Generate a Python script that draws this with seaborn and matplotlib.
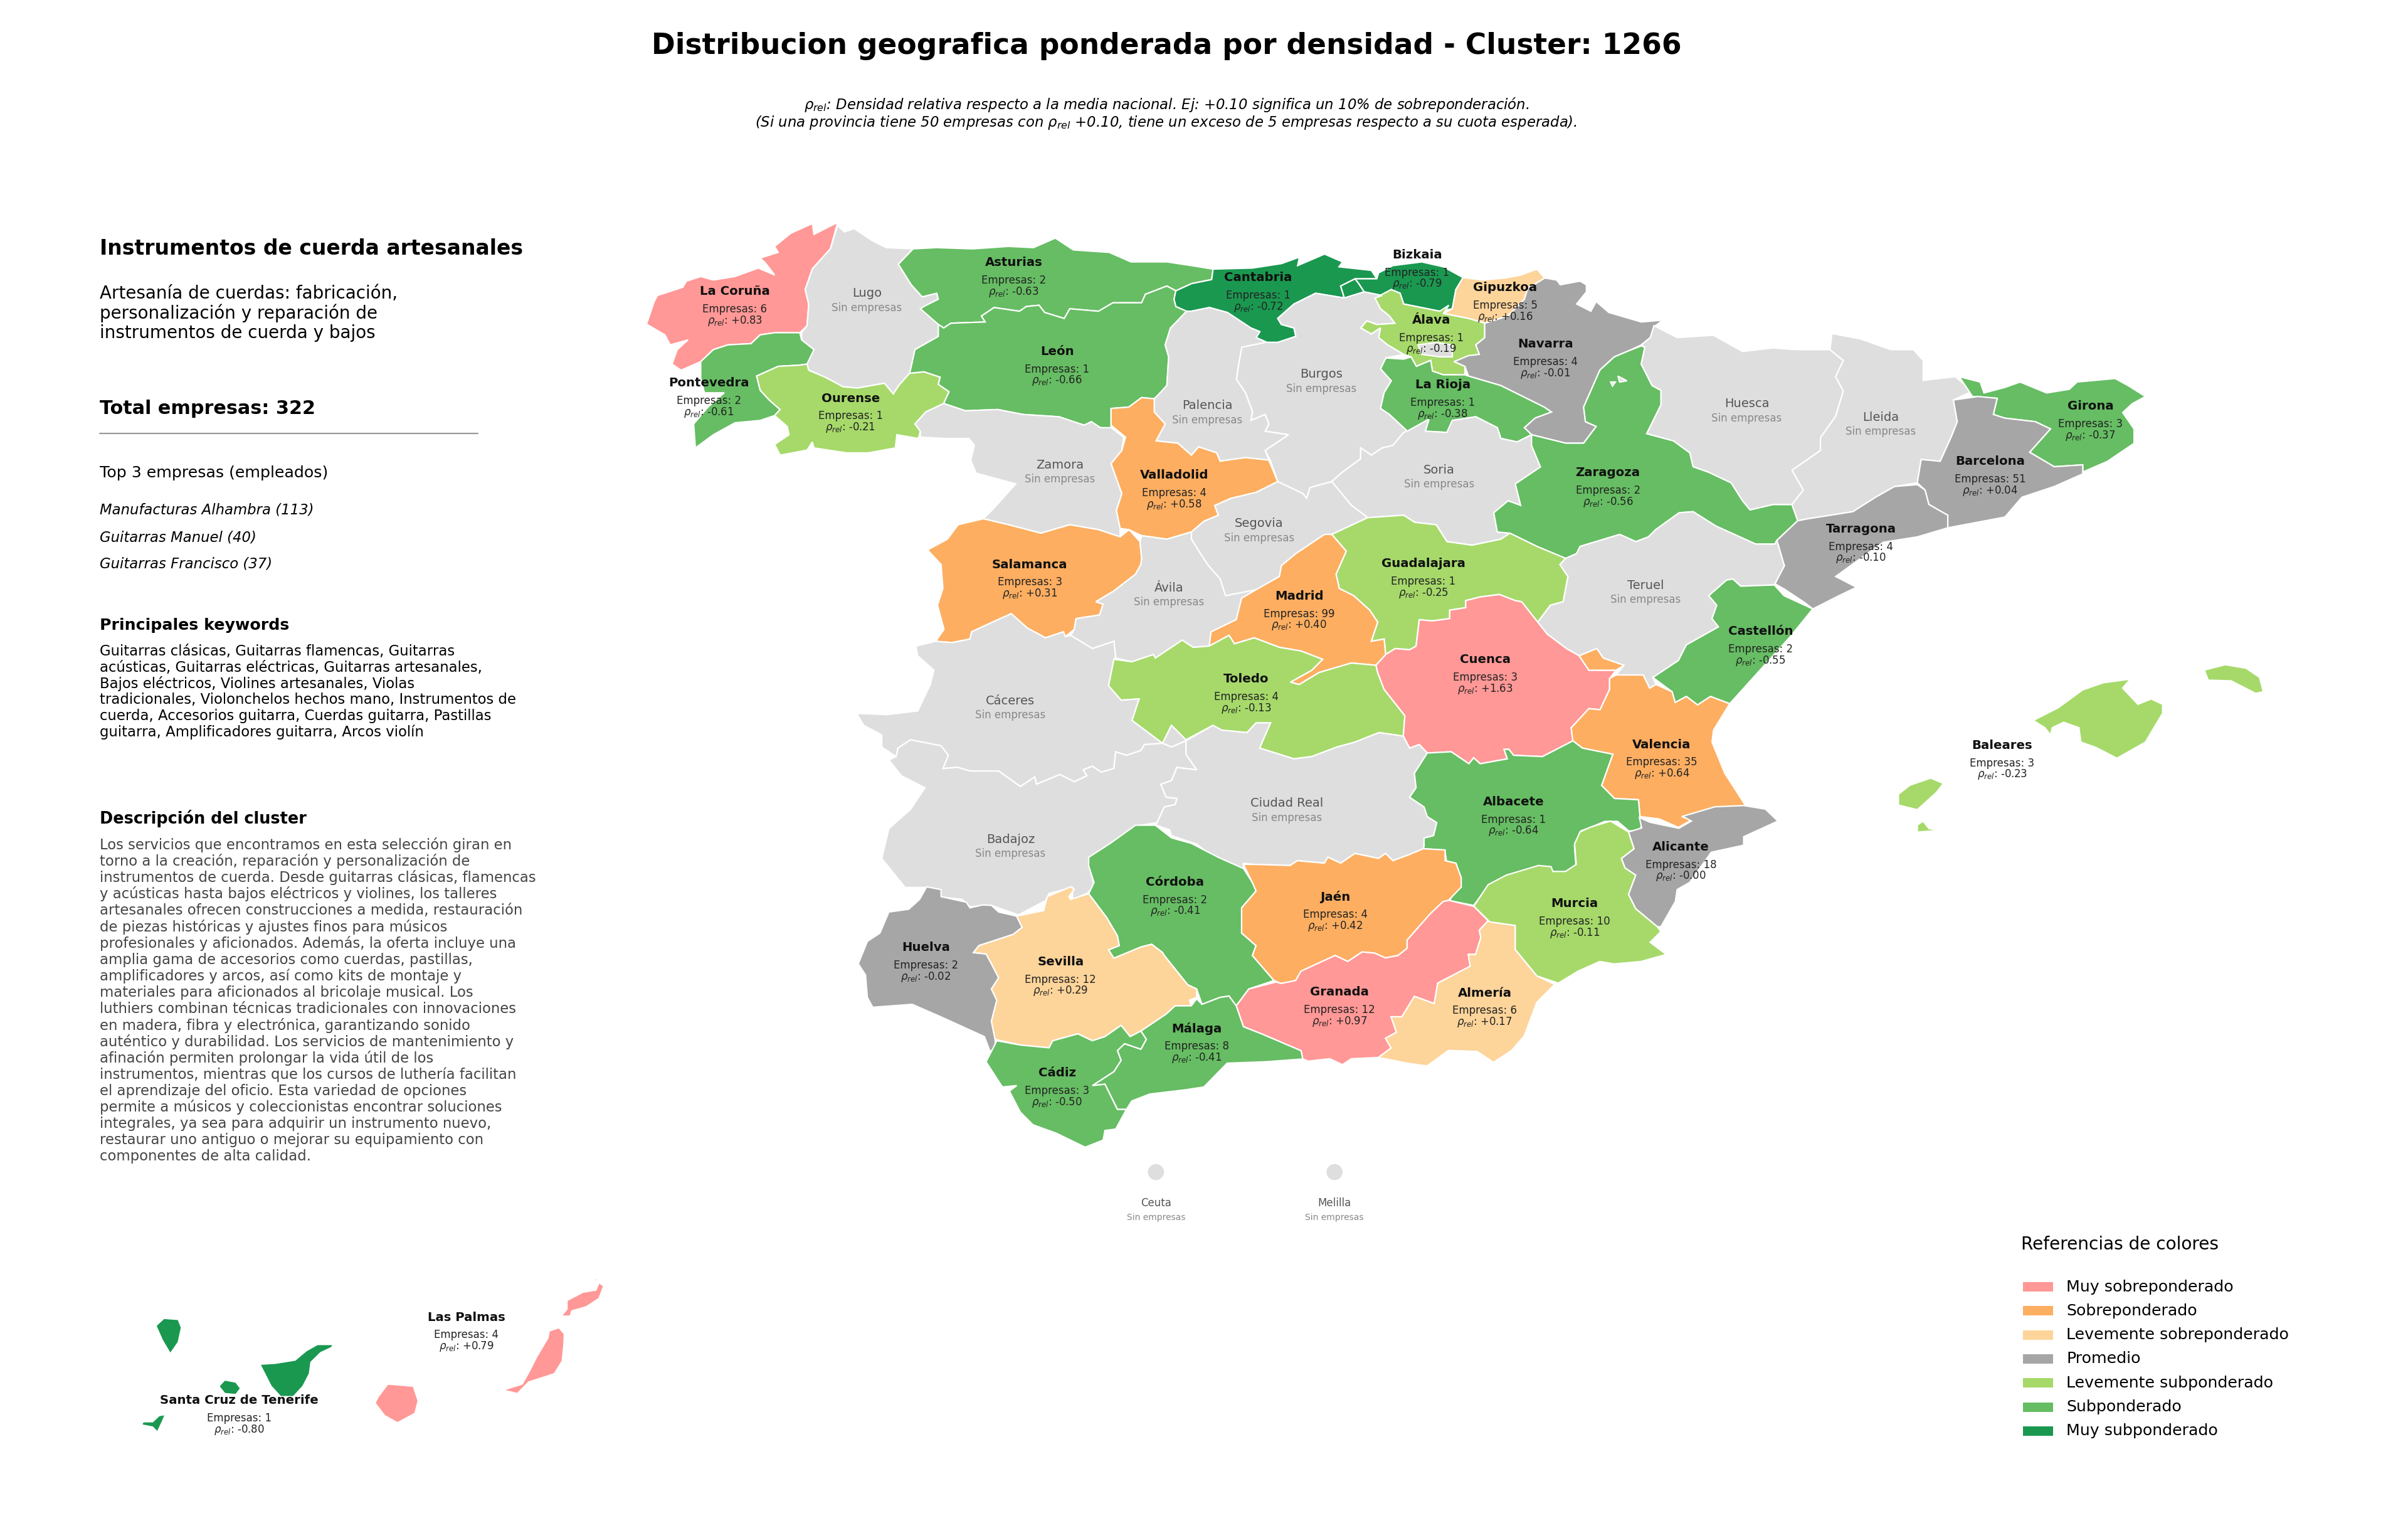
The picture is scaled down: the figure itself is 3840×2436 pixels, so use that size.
import matplotlib
matplotlib.use("Agg")
import matplotlib.pyplot as plt
import pandas as pd
import seaborn as sns

# --- datos de provincias ---
provincias = ["La Coruña", "Lugo", "Asturias", "Pontevedra", "Ourense", "León", "Cantabria", "Bizkaia",
              "Gipuzkoa", "Álava", "Navarra", "La Rioja", "Burgos", "Palencia", "Zamora", "Valladolid",
              "Soria", "Zaragoza", "Huesca", "Lleida", "Girona", "Barcelona", "Tarragona", "Segovia",
              "Guadalajara", "Salamanca", "Ávila", "Madrid", "Teruel", "Castellón", "Toledo", "Cuenca",
              "Cáceres", "Valencia", "Baleares", "Ciudad Real", "Albacete", "Badajoz", "Alicante", "Murcia",
              "Córdoba", "Jaén", "Huelva", "Sevilla", "Granada", "Almería", "Málaga", "Cádiz",
              "Santa Cruz de Tenerife", "Las Palmas"]
empresas = [6, 0, 2, 2, 1, 1, 1, 1,
            5, 1, 4, 1, 0, 0, 0, 4,
            0, 2, 0, 0, 3, 51, 4, 0,
            1, 3, 0, 99, 0, 2, 4, 3,
            0, 35, 3, 0, 1, 0, 18, 10,
            2, 4, 2, 12, 12, 6, 8, 3,
            1, 4]
rho = ["+0.83", None, "-0.63", "-0.61", "-0.21", "-0.66", "-0.72", "-0.79",
       "+0.16", "-0.19", "-0.01", "-0.38", None, None, None, "+0.58",
       None, "-0.56", None, None, "-0.37", "+0.04", "-0.10", None,
       "-0.25", "+0.31", None, "+0.40", None, "-0.55", "-0.13", "+1.63",
       None, "+0.64", "-0.23", None, "-0.64", None, "-0.00", "-0.11",
       "-0.41", "+0.42", "-0.02", "+0.29", "+0.97", "+0.17", "-0.41", "-0.50",
       "-0.80", "+0.79"]
label_x = [478.5, 564.5, 660, 461.7, 553.8, 688.4, 819.2, 922.7,
           980.2, 932.1, 1006.2, 939.4, 860.4, 786, 690.2, 764.5,
           937, 1047, 1137.4, 1224.8, 1361.2, 1295.8, 1211.9, 819.9,
           926.7, 670.6, 761.2, 846, 1071.7, 1146.3, 811.6, 967.1,
           658, 1082.1, 1303.7, 837.8, 985.6, 658, 1094.6, 1025.3,
           765.2, 869.4, 603, 690.6, 872.2, 966.7, 779.2, 688.3,
           155.7, 303.6]
label_y = [189.8, 191, 171, 249.4, 259.3, 228.8, 180.7, 165.9,
           187.4, 208.4, 224, 250.7, 243.7, 264, 302.6, 309.5,
           306, 307.7, 262.8, 271.7, 264.4, 300.5, 344.3, 340.9,
           367, 367.5, 382.8, 388.1, 381.1, 411.1, 442.2, 429.5,
           456.3, 484.7, 485.2, 523, 521.9, 546.4, 551.3, 588.4,
           574.2, 583.8, 616.8, 626.1, 645.8, 646.4, 669.7, 698.5,
           911.7, 857.5]

ciudades = ["Ceuta", "Melilla"]
ciudades_x = [752.7, 869]
ciudades_y = [763, 763]

categorias = ["Muy sobreponderado", "Sobreponderado", "Levemente sobreponderado", "Promedio",
              "Levemente subponderado", "Subponderado", "Muy subponderado"]
colores = ["#FF9896", "#FDAE61", "#FDD49A", "#A6A6A6", "#A6D96A", "#66BD63", "#1A9850"]
color_sin = "#DEDEDE"

top_empresas = ["Manufacturas Alhambra (113)", "Guitarras Manuel (40)", "Guitarras Francisco (37)"]
subtitulo_cluster = ["Artesanía de cuerdas: fabricación,", "personalización y reparación de",
                     "instrumentos de cuerda y bajos"]
keywords = ["Guitarras clásicas, Guitarras flamencas, Guitarras",
            "acústicas, Guitarras eléctricas, Guitarras artesanales,",
            "Bajos eléctricos, Violines artesanales, Violas",
            "tradicionales, Violonchelos hechos mano, Instrumentos de",
            "cuerda, Accesorios guitarra, Cuerdas guitarra, Pastillas",
            "guitarra, Amplificadores guitarra, Arcos violín"]
descripcion = ["Los servicios que encontramos en esta selección giran en",
               "torno a la creación, reparación y personalización de",
               "instrumentos de cuerda. Desde guitarras clásicas, flamencas",
               "y acústicas hasta bajos eléctricos y violines, los talleres",
               "artesanales ofrecen construcciones a medida, restauración",
               "de piezas históricas y ajustes finos para músicos",
               "profesionales y aficionados. Además, la oferta incluye una",
               "amplia gama de accesorios como cuerdas, pastillas,",
               "amplificadores y arcos, así como kits de montaje y",
               "materiales para aficionados al bricolaje musical. Los",
               "luthiers combinan técnicas tradicionales con innovaciones",
               "en madera, fibra y electrónica, garantizando sonido",
               "auténtico y durabilidad. Los servicios de mantenimiento y",
               "afinación permiten prolongar la vida útil de los",
               "instrumentos, mientras que los cursos de luthería facilitan",
               "el aprendizaje del oficio. Esta variedad de opciones",
               "permite a músicos y coleccionistas encontrar soluciones",
               "integrales, ya sea para adquirir un instrumento nuevo,",
               "restaurar uno antiguo o mejorar su equipamiento con",
               "componentes de alta calidad."]

# --- contornos de provincias ---
contornos = {
    "La Coruña": [[(545.4,144.8),(540.7,162),(529,175),(524.3,188.5),(526.6,198),(525.5,212),(520.8,216.6),(504.4,216.6),(495,218),(489,223.7),(474,224.5),(464.5,227.6),(456.3,235.4),(443.5,241),(437.6,237),(441,227.6),(448,221.3),(436.4,224.5),(433,218),(421,211),(426,196.3),(428,192.4),(444.6,187),(447,183),(456.3,180),(464.5,182.3),(478.6,180),(493.8,174.5),(504.4,179),(498.5,171.3),(495,168),(506.7,164.3),(504.4,160.4),(515,151.8),(529,145.5),(530,152.6)]],
    "Lugo": [[(545.4,147),(550,151),(556,148.7),(567.7,156.5),(577,161.2),(594.6,162),(585,172),(593.4,185.4),(600.5,193.2),(610,190.9),(611,194.8),(601.6,199.5),(611,211.2),(611,219),(595.8,227.6),(593.4,238.5),(592.3,243),(585.2,251),(581.7,256.5),(575.9,249.5),(558.3,252.6),(549,251.8),(537.2,245.5),(526.6,241),(525.5,237),(530,227.6),(522,221.3),(522,216.6),(525.5,212),(526.6,198),(524.3,188.5),(529,175),(540.7,162)]],
    "Pontevedra": [[(530,227.6),(525.5,237),(520.8,237.7),(506.7,238.5),(492.7,244.8),(495,254),(500.9,260.4),(508,266.6),(504.4,270.5),(495,273.7),(478.6,275.2),(464.5,283),(452.8,291.6),(451.7,276),(461,265),(471.6,255.7),(458.7,255.7),(456.3,246.3),(456.3,235.4),(464.5,227.6),(474,224.5),(489,223.7),(495,218),(504.4,216.6),(520.8,216.6),(522,221.3)]],
    "Ourense": [[(525.5,237),(526.6,241),(537.2,245.5),(549,251.8),(558.3,252.6),(575.9,249.5),(581.7,256.5),(585.2,251),(592.3,243),(601.6,242),(612.2,245.5),(611,250.2),(618,255),(614.5,262.7),(602.8,268.2),(595.8,276),(599.3,280.7),(598,285.4),(584,283),(583,291.6),(565.3,294.8),(551.3,294.8),(530,291.6),(529,287.7),(525.5,293),(508,296.3),(504.4,289.3),(513.8,283),(512.6,277.6),(504.4,270.5),(508,266.6),(500.9,260.4),(495,254),(492.7,244.8),(506.7,238.5),(520.8,237.7)]],
    "Asturias": [[(594.6,162),(609.8,161.2),(633.3,162),(656.7,160.4),(673,161.2),(687.2,155),(698.9,162.7),(722.3,164.3),(736.4,170.5),(759.8,170.5),(775.8,172.9),(789.9,175.2),(789,182),(776,184.6),(765.7,189.3),(759.8,186.2),(745.8,191.6),(743.4,197.1),(724.7,197.1),(715.3,202.6),(696.6,201),(693,207.3),(680.2,203.4),(676.6,198.7),(668.4,199.5),(663.8,202.6),(647.3,200.2),(639.1,205.7),(641.5,209.6),(619.2,210.4),(614.5,213.5),(611,211.2),(599.3,201),(601.6,199.5),(611,194.8),(610,190.9),(600.5,193.2),(593.4,185.4),(585,172)]],
    "León": [[(765.7,189.3),(764.5,194.8),(765.7,199.5),(772.7,202.6),(762.2,213.5),(758.7,224.5),(761,232.3),(759.8,251),(754,257.3),(751.6,259.6),(743.4,258.8),(735,265),(723.5,265.9),(723.5,279.1),(716.5,278.4),(710.6,274.5),(706,276.8),(689.5,271.3),(666,269.8),(649.7,266.6),(628.6,267.4),(614.5,262.7),(618,255),(611,250.2),(612.2,245.5),(601.6,242),(592.3,243),(593.4,238.5),(595.8,227.6),(611,219),(611,211.2),(614.5,213.5),(619.2,210.4),(641.5,209.6),(639.1,205.7),(647.3,200.2),(663.8,202.6),(668.4,199.5),(676.6,198.7),(680.2,203.4),(693,207.3),(696.6,201),(715.3,202.6),(724.7,197.1),(743.4,197.1),(745.8,191.6),(759.8,186.2)]],
    "Cantabria": [[(789.9,175.2),(815.6,174.5),(834.4,171.6),(846.1,167.4),(845,172.9),(862.5,165.4),(874.2,170.5),(871.9,173.7),(893,176),(896.5,181.5),(882.4,181.5),(873,186.2),(875.4,194),(856.7,190.9),(842.6,197.9),(832,207.3),(834.4,211.2),(842.6,213.5),(843.8,219),(832,222.9),(825,222.9),(818,219.8),(820.3,215.9),(814.5,213.5),(805.1,207.3),(799.2,203.4),(787.5,200.2),(775.8,202.6),(772.7,202.6),(765.7,199.5),(764.5,194.8),(765.7,189.3),(776,184.6),(789,182)],
                  [(873,186.2),(882.4,181.5),(884.8,184.6),(888.3,190),(875.4,194)]],
    "Bizkaia": [[(896.5,181.5),(897.7,177.6),(907,172.9),(925.8,170.5),(939.9,173.7),(952.7,180.7),(948,188.5),(945.7,201),(937.5,202.6),(914,197.9),(911.7,190.9),(905.9,188.5),(900,192.4),(888.3,190),(884.8,184.6),(882.4,181.5)]],
    "Gipuzkoa": [[(952.7,180.7),(965.6,182.3),(979.7,181),(990.2,179.1),(1000.8,175.2),(1005.9,181),(994.9,187.7),(992.6,194.8),(982,205.7),(966.8,210.4),(956.2,207.3),(939.9,204.1),(945.7,201),(948,188.5)]],
    "Navarra": [[(1005.9,181),(1013.7,182.3),(1016,185.4),(1028.9,183),(1033,185.4),(1033,190),(1026.6,197.9),(1035.9,202.6),(1039.4,196.3),(1047.6,203.4),(1068.7,209.6),(1082.8,208.4),(1078.1,212),(1074.6,219.8),(1068.8,224.5),(1060.5,228.4),(1051.2,232.3),(1041.8,240.9),(1036,254.1),(1031.2,265),(1032.4,274.5),(1039.4,277.6),(1031.2,288.5),(1019.5,288.5),(997.3,283),(992.6,278.4),(999.6,272.1),(1010.2,268.2),(1005.5,265),(977.3,251),(956.2,244.8),(953.9,238.5),(946.9,235.4),(956.2,231.5),(963.3,230.7),(961,224.5),(966.8,219.8),(966.8,210.4),(982,205.7),(992.6,194.8),(994.9,187.7)]],
    "Álava": [[(911.7,190.9),(914,197.9),(937.5,202.6),(943.4,198.7),(939.9,204.1),(956.2,207.3),(966.8,210.4),(966.8,219.8),(961,224.5),(963.3,230.7),(946.9,235.4),(953.9,238.5),(953.9,244),(939.9,244),(932.8,241.6),(931.6,234.6),(922.3,238.5),(918.8,232.3),(914,230.7),(903.5,224.5),(897.7,219.8),(898.9,213.5),(893,217.4),(886,213.5),(890.1,208.8),(896.5,211.2),(908.2,210.4),(904.7,205.7),(898.9,201),(895.3,194),(905.9,188.5)]],
    "La Rioja": [[(902.4,233),(914,233.8),(918.8,232.3),(922.3,238.5),(931.6,234.6),(932.8,241.6),(939.9,244),(953.9,244),(956.2,244.8),(977.3,251),(1005.5,265),(1010.2,268.2),(999.6,272.1),(992.6,278.4),(997.3,283),(987.9,287.7),(977.3,285.4),(975,278.4),(961,271.3),(945.7,273.7),(942.2,281.5),(928.1,280.7),(930.5,272.9),(916.4,280.7),(904.7,269.8),(898.9,265.9),(901.2,255.7),(905.9,247.9),(898.9,240.1)]],
    "Burgos": [[(823.8,222.9),(808.6,226),(806.3,238.5),(805.1,247),(811,255.7),(815.6,268.2),(814.5,273.7),(823.8,269.8),(826.2,276),(823.8,280.7),(839,283),(823.8,293.2),(827.4,300.2),(832,313.5),(848.4,321.3),(850.8,324.4),(853.1,317.4),(867.2,313.5),(874.2,307.3),(886,298.7),(886,291.6),(893,296.3),(900,291.6),(907,290),(914,281.5),(916.4,280.7),(904.7,269.8),(898.9,265.9),(901.2,255.7),(905.9,247.9),(898.9,240.1),(902.4,233),(914,230.7),(903.5,224.5),(897.7,219.8),(898.9,213.5),(893,217.4),(886,213.5),(890.1,208.8),(896.5,211.2),(908.2,210.4),(904.7,205.7),(898.9,201),(895.3,194),(900,192.4),(888.3,190),(875.4,194),(856.7,190.9),(842.6,197.9),(832,207.3),(834.4,211.2),(842.6,213.5),(843.8,219),(832,222.9)],
               [(923.4,224.5),(935.2,222.9),(945.7,224.5),(945.7,232.3),(937.5,232.3),(925.8,230.7)]],
    "Palencia": [[(772.7,202.6),(775.8,202.6),(787.5,200.2),(799.2,203.4),(805.1,207.3),(814.5,213.5),(820.3,215.9),(818,219.8),(825,222.9),(823.8,222.9),(808.6,226),(806.3,238.5),(805.1,247),(811,255.7),(815.6,268.2),(814.5,273.7),(823.8,269.8),(826.2,276),(823.8,280.7),(839,283),(823.8,293.2),(826.2,299.5),(811,297.9),(794.5,300.2),(792.2,294.8),(780.5,290.9),(775.8,296.3),(766.9,288.5),(752.8,287),(758.7,276),(751.6,268.2),(751.6,259.6),(754,257.3),(759.8,251),(761,232.3),(758.7,224.5),(762.2,213.5)]],
    "Valladolid": [[(723.5,265.9),(735,265),(743.4,258.8),(751.6,259.6),(751.6,268.2),(758.7,276),(752.8,287),(766.9,288.5),(775.8,296.3),(780.5,290.9),(792.2,294.8),(794.5,300.2),(811,297.9),(826.2,299.5),(832,313.5),(818,320.5),(801.6,324.4),(791,329.1),(793.4,335.4),(784,339.3),(775.8,346.3),(759.8,351),(743.4,348.7),(735.2,344.8),(729.4,344),(727,332.3),(730.5,321.3),(723.5,301.8),(730.5,293.2),(732.9,284.6),(723.5,276.8)]],
    "Zamora": [[(723.5,278.4),(731.7,284.6),(730.5,293.2),(723.5,301.8),(730.5,321.3),(727,332.3),(729.4,344),(729.4,349.5),(715.3,344.8),(696.6,341.6),(677.8,347.1),(656.7,341.6),(640.3,337.7),(647.3,330.7),(661.4,315),(635.6,308),(632.1,299.5),(634.5,290),(631,285.4),(614.5,285.4),(599.3,284.6),(599.3,280.7),(595.8,276),(602.8,268.2),(614.5,262.7),(628.6,267.4),(649.7,266.6),(666,269.8),(689.5,271.3),(706,276.8),(710.6,274.5),(716.5,278.4)]],
    "Salamanca": [[(640.3,337.7),(623.9,341.6),(616.9,351),(604,358),(612.8,367.5),(614,383),(610.5,394),(614.7,409.7),(609.3,417.5),(619.9,418.3),(631.6,416),(632.7,411.3),(648,404.2),(658.5,399.5),(669,408.9),(680.8,415.2),(692.5,411.3),(693.7,414.4),(699.5,409.7),(700.7,402.7),(716,400.3),(718.3,393.3),(713.6,391.7),(725.3,384.7),(739.4,373.8),(742.9,367.5),(743.4,363.5),(742.3,352.6),(735.2,344.8),(729.4,349.5),(715.3,344.8),(696.6,341.6),(677.8,347.1),(656.7,341.6)]],
    "Ávila": [[(742.9,367.5),(739.4,373.8),(725.3,384.7),(713.6,391.7),(718.3,393.3),(716,400.3),(700.7,402.7),(699.5,409.7),(697.2,413.6),(711.3,422.2),(725.3,417.5),(726.5,428.4),(737,430.8),(751.1,426.1),(752.3,428.4),(769.8,416.7),(776.9,421.4),(787.4,420.6),(788.6,411.3),(805,403.4),(808.5,389.4),(817.9,383.9),(798,387.8),(794.5,376.9),(786.3,367.5),(781.7,360.4),(775.8,351),(775.8,346.3),(759.8,351),(743.4,348.7),(742.3,352.6),(743.4,363.5)]],
    "Segovia": [[(867.2,313.5),(880,329),(890.6,337),(867.2,347.9),(862.5,347.9),(843.8,360.4),(834.4,368.2),(833.1,375.3),(817.9,383.9),(798,387.8),(794.5,376.9),(786.3,367.5),(781.7,360.4),(775.8,351),(775.8,346.3),(784,339.3),(793.4,335.4),(791,329.1),(801.6,324.4),(818,320.5),(832,313.5),(848.4,321.3),(850.8,324.4),(853.1,317.4)]],
    "Soria": [[(867.2,313.5),(874.2,307.3),(886,298.7),(886,291.6),(893,296.3),(900,291.6),(907,290),(914,281.5),(916.4,280.7),(930.5,272.9),(928.1,280.7),(942.2,281.5),(945.7,273.7),(961,271.3),(975,278.4),(977.3,285.4),(987.9,287.7),(997.3,283),(997.3,290),(1003.1,304),(986.7,315),(990.2,329),(982,326),(972.7,333.8),(975,346.3),(983.2,347.1),(977.3,351),(958.6,354.9),(942.2,352.6),(935.2,341.6),(921.1,340),(914,335.4),(890.6,337),(880,329)]],
    "Zaragoza": [[(1068.7,225.2),(1060.5,228.4),(1051.2,232.3),(1041.8,240.9),(1036,254.1),(1031.2,265),(1032.4,274.5),(1039.4,277.6),(1031.2,288.5),(1019.5,288.5),(997.3,283),(997.3,290),(1003.1,304),(986.7,315),(990.2,329),(982,326),(972.7,333.8),(975,346.3),(983.2,347.1),(1000.8,355.7),(1019.5,363.5),(1026.6,360.4),(1028.9,355.7),(1054.7,347.9),(1065.2,352.6),(1073.4,349.5),(1078.1,344.8),(1093.4,333.8),(1102.5,333.1),(1117.4,342.5),(1143.3,354.2),(1155.7,354.2),(1157,351.8),(1170.6,339),(1166.9,328.4),(1154.5,328.4),(1139.6,331.9),(1134.7,326),(1127.3,314.3),(1112.4,307.3),(1102.5,303.8),(1100.4,294.8),(1089.8,287),(1072.3,282.3),(1081.6,263.5),(1081.6,254.1),(1075.8,251),(1068.7,237),(1071.1,226)]],
    "Huesca": [[(1077,212),(1092.2,219.8),(1115.6,218.2),(1134.7,228.8),(1154.5,226.5),(1169.3,227.6),(1191.6,227.6),(1200.3,234.7),(1195.3,245.2),(1200.3,254.6),(1195.3,271),(1185.4,285),(1185.4,293.3),(1166.9,306.1),(1174.3,319),(1166.9,328.4),(1154.5,328.4),(1139.6,331.9),(1134.7,326),(1127.3,314.3),(1112.4,307.3),(1102.5,303.8),(1100.4,294.8),(1089.8,287),(1072.3,282.3),(1081.6,263.5),(1081.6,254.1),(1075.8,251),(1068.7,237),(1071.1,226),(1068.8,224.5),(1074.6,219.8)],
               [(1053.5,244.8),(1059.4,247.9),(1054.7,248.7)],
               [(1048.8,248.7),(1051.9,248.7),(1050,251.3)]],
    "Lleida": [[(1192.9,217.1),(1211.4,220.6),(1231.2,227.6),(1246,227.6),(1252.3,234.7),(1252.3,247.6),(1273.3,245.2),(1284.4,254.6),(1272,260.4),(1274.5,274.5),(1270.8,283.9),(1267.1,292.1),(1263.4,300.3),(1251,299.1),(1248.5,314.3),(1233.7,316.7),(1221.3,323.7),(1206.5,333.1),(1176.8,337.8),(1170.6,339),(1166.9,328.4),(1174.3,319),(1166.9,306.1),(1185.4,293.3),(1185.4,285),(1195.3,271),(1200.3,254.6),(1195.3,245.2),(1200.3,234.7),(1191.6,227.6)]],
    "Girona": [[(1275.8,245.2),(1289.4,248.7),(1291.9,255.8),(1305.5,252.2),(1315.4,248.7),(1332.7,255.8),(1347.5,253.4),(1352.5,248.7),(1377.3,246.4),(1385.9,251.1),(1397,258.1),(1388.4,262.8),(1382.2,268.6),(1389.6,279.2),(1389.6,288.6),(1372.3,300.3),(1356.2,307.3),(1356.2,302.6),(1337.6,303.8),(1321.6,294.4),(1335.2,279.2),(1325.3,274.5),(1305.5,272.2),(1298,269.8),(1300.5,259.3),(1284.4,258.1)]],
    "Barcelona": [[(1272,260.4),(1288.1,258.1),(1300.5,259.3),(1298,269.8),(1305.5,272.2),(1325.3,274.5),(1335.2,279.2),(1321.6,294.4),(1337.6,303.8),(1356.2,302.6),(1356.2,308.5),(1337.6,316.7),(1316.6,323.7),(1305.5,336.6),(1268.3,343.6),(1268.3,335.4),(1256,328.4),(1253.5,319),(1248.5,314.3),(1251,299.1),(1263.4,300.3),(1267.1,292.1),(1270.8,283.9),(1274.5,274.5)]],
    "Tarragona": [[(1176.8,337.8),(1206.5,333.1),(1221.3,323.7),(1233.7,316.7),(1248.5,315.5),(1253.5,319),(1256,328.4),(1268.3,335.4),(1268.3,343.6),(1248.5,349.5),(1226.3,353),(1211.4,363.6),(1195.3,375.3),(1208.9,382.3),(1196.6,388.2),(1180.5,396.4),(1174.3,391.7),(1161.9,383.5),(1155.7,380),(1161.9,368.3),(1157,351.8),(1170.6,339)]],
    "Teruel": [[(1015.8,367.5),(1021,375.3),(1017.9,391.7),(1009.6,394),(1001.3,405),(1007.5,412.8),(1020,422.2),(1028.3,426.9),(1039.8,422.2),(1044,428.4),(1057.5,433.1),(1052.3,439.4),(1070,439.4),(1074.2,448),(1078.3,445.6),(1076.3,441),(1092.9,430),(1098.1,419.8),(1119,408.1),(1114.8,402.7),(1117.9,394),(1112.7,387.8),(1124.2,377.7),(1128.3,376.9),(1133.5,381.6),(1155.4,380.8),(1161.9,368.3),(1157,351.8),(1155.7,354.2),(1143.3,354.2),(1117.4,342.5),(1102.5,333.1),(1093.4,333.8),(1078.1,344.8),(1073.4,349.5),(1065.2,352.6),(1054.7,347.9),(1028.9,355.7),(1026.6,360.4),(1019.5,363.5)]],
    "Castellón": [[(1124.2,377.7),(1128.3,376.9),(1133.5,381.6),(1155.4,380.8),(1161.7,387.8),(1180.4,396.4),(1165.8,414.4),(1126.3,458.1),(1113.8,453.4),(1105.4,458.9),(1098.1,453.4),(1090.8,457.3),(1088.8,450.3),(1076.3,441),(1092.9,430),(1098.1,419.8),(1119,408.1),(1114.8,402.7),(1117.9,394),(1112.7,387.8)]],
    "Valencia": [[(1048.1,441.7),(1052.3,439.4),(1070,439.4),(1074.2,448),(1078.3,445.6),(1088.8,450.3),(1090.8,457.3),(1098.1,453.4),(1105.4,458.9),(1113.8,453.4),(1126.3,458.1),(1115.8,475.3),(1114.8,483.1),(1123.1,503.4),(1136.7,524.5),(1113.8,526.9),(1095,531.6),(1101.3,533.9),(1092.9,538.6),(1080.4,533.1),(1067.9,531.6),(1066.9,520.6),(1051.3,519.8),(1042.9,511.3),(1050.2,491),(1030.4,487),(1024.2,482.3),(1023.1,473.8),(1034.6,461.3),(1041.9,462),(1048.1,448.8)],
                 [(1028.3,426.9),(1039.8,422.2),(1044,428.4),(1057.5,433.1),(1052.3,436.3),(1034.6,436.3)]],
    "Cuenca": [[(896,433.1),(902.3,426.1),(908.5,422.2),(917.9,423),(922.1,420.6),(924.2,403.4),(932.5,404.2),(944,402.7),(944,397.2),(954.4,395.6),(954.4,391),(963.8,388.6),(976.3,387),(986.7,391),(990.8,391.7),(1001.3,405),(1007.5,412.8),(1020,422.2),(1028.3,426.9),(1034.6,436.3),(1052.3,436.3),(1048.1,441.7),(1048.1,448.8),(1041.9,462),(1034.6,461.3),(1023.1,473.8),(1024.2,482.3),(1004.4,492.5),(985.6,491.7),(982.5,487.8),(979.4,487.8),(981.5,494),(963.8,497.2),(959.6,493.3),(956.5,497.2),(945,489.4),(929.4,490.2),(924.2,484.7),(917.9,487),(913.8,479.2),(914.8,465.9),(901.3,448.8),(897.1,437.8)]],
    "Guadalajara": [[(867.2,347.9),(876.6,358.8),(870,373.8),(872.1,383.1),(881.5,387.8),(891.9,397.2),(897.1,405),(892.9,417.5),(901.3,416),(902.3,426.1),(908.5,422.2),(917.9,423),(922.1,420.6),(924.2,403.4),(932.5,404.2),(944,402.7),(944,397.2),(954.4,395.6),(954.4,391),(963.8,388.6),(976.3,387),(986.7,391),(990.8,391.7),(1001.3,405),(1009.6,394),(1017.9,391.7),(1021,375.3),(1015.8,367.5),(1019.5,363.5),(1000.8,355.7),(983.2,347.1),(977.3,351),(958.6,354.9),(942.2,352.6),(935.2,341.6),(921.1,340),(914,335.4),(890.6,337)]],
    "Madrid": [[(834.4,368.2),(833.1,375.3),(817.9,383.9),(808.5,389.4),(805,403.4),(788.6,411.3),(787.4,420.6),(800.3,413.6),(803.8,419.1),(816.7,415.2),(833.1,421.4),(847.2,423.8),(861.2,429.2),(854.2,436.3),(840.2,444.1),(846,445.6),(858.9,437.8),(880,431.6),(896,433.1),(902.3,426.1),(901.3,416),(892.9,417.5),(897.1,405),(891.9,397.2),(881.5,387.8),(872.1,383.1),(870,373.8),(876.6,358.8),(867.2,347.9),(862.5,347.9),(843.8,360.4)]],
    "Toledo": [[(725.3,429.2),(737,430.8),(751.1,426.1),(752.3,428.4),(769.8,416.7),(776.9,421.4),(787.4,420.6),(800.3,413.6),(803.8,419.1),(816.7,415.2),(833.1,421.4),(847.2,423.8),(861.2,429.2),(854.2,436.3),(840.2,444.1),(846,445.6),(858.9,437.8),(880,431.6),(896,433.1),(897.1,437.8),(901.3,448.8),(914.8,465.9),(913.8,479.2),(898,476.9),(882.3,483.1),(870.6,486.3),(854.2,492.5),(842.5,494),(833.1,491),(820.2,487),(827.3,470.6),(817.9,470.6),(812,476.9),(795.6,475.3),(789.8,472.2),(772.2,481.6),(762.8,472.2),(757,483.9),(737.1,469),(741.7,455),(730,455.8),(721.8,446.4)]],
    "Cáceres": [[(596.4,420.6),(609.3,417.5),(619.9,418.3),(631.6,416),(632.7,411.3),(648,404.2),(658.5,399.5),(669,408.9),(680.8,415.2),(692.5,411.3),(693.7,414.4),(697.2,413.6),(711.3,422.2),(725.3,417.5),(726.5,428.4),(725.3,429.2),(721.8,446.4),(730,455.8),(741.7,455),(737.1,469),(757,483.9),(762.8,472.2),(772.2,481.6),(772.2,482.3),(762.8,486.3),(757,483.9),(745.2,484.7),(742.9,488.6),(733.5,491.7),(726.5,489.4),(725.3,500.3),(717.1,502.7),(711.3,498.8),(705.4,501.1),(707.8,505),(699.5,508.9),(690.2,504.2),(674.9,510.5),(673.8,505.8),(664.4,512),(650.3,501.9),(631.6,501.9),(623.4,499.5),(614,500.3),(617.5,491.7),(612.8,485.5),(592.9,481.6),(584.7,487),(583.5,492.5),(574.2,486.3),(574.2,478.4),(562.4,472.2),(557.8,464.4),(577.7,465.2),(597.6,462.8),(605.8,445.6),(608.1,436.3),(597.6,426.9)]],
    "Badajoz": [[(578.8,494.8),(583.5,492.5),(584.7,487),(592.9,481.6),(612.8,485.5),(617.5,491.7),(614,500.3),(623.4,499.5),(631.6,501.9),(650.3,501.9),(664.4,512),(673.8,505.8),(674.9,510.5),(690.2,504.2),(699.5,508.9),(707.8,505),(705.4,501.1),(711.3,498.8),(717.1,502.7),(725.3,500.3),(726.5,489.4),(733.5,491.7),(742.9,488.6),(745.2,484.7),(757,483.9),(762.8,486.3),(772.2,482.3),(772.2,491),(779.2,501.1),(766.3,499.5),(762.8,508.1),(755.8,510.5),(759.3,519),(766.3,519.8),(765.2,523.7),(758.1,525.3),(753.4,535.5),(739.4,537.8),(737,541.7),(723,548.8),(708.9,561.3),(712.4,576.9),(707.8,581.6),(698.4,585.5),(698.4,577.7),(683.1,581.6),(680.8,586.3),(663.2,595.6),(645.6,589.4),(631.6,590.2),(626.4,585.5),(612.8,583.9),(603.4,577.7),(589.4,577.7),(574.2,558.9),(578.8,539.4),(592.9,526.9),(602.3,512.8),(587,505)]],
    "Ciudad Real": [[(772.2,482.3),(789.8,472.2),(795.6,475.3),(812,476.9),(817.9,470.6),(827.3,470.6),(820.2,487),(833.1,491),(842.5,494),(854.2,492.5),(870.6,486.3),(882.3,483.1),(898,476.9),(913.8,479.2),(917.9,487),(924.2,484.7),(929.4,490.2),(921,503.4),(922.1,512.8),(917.9,519),(927.3,525.3),(929.4,531.6),(935.6,535.5),(933.5,544),(927.3,545.6),(927.3,551.1),(926.8,552.5),(917.5,556.4),(907,560.3),(902.2,555.6),(897.6,558.8),(882.3,555.6),(873,561.9),(864.7,558),(862.4,561.9),(844.8,560.3),(840.1,563.4),(816.7,562.7),(809.7,562),(809.7,565.9),(788.6,556.6),(779.2,549.5),(762.8,544),(761.6,540.2),(752.3,537),(753.4,535.5),(758.1,525.3),(765.2,523.7),(766.3,519.8),(759.3,519),(755.8,510.5),(762.8,508.1),(766.3,499.5),(779.2,501.1),(772.2,491)]],
    "Albacete": [[(929.4,490.2),(945,489.4),(956.5,497.2),(959.6,493.3),(963.8,497.2),(981.5,494),(979.4,487.8),(982.5,487.8),(985.6,491.7),(1004.4,492.5),(1024.2,482.3),(1030.4,487),(1050.2,491),(1042.9,511.3),(1051.3,519.8),(1066.9,520.6),(1067.9,531.6),(1069,537.8),(1066.9,540.9),(1060.6,540.9),(1053.3,534.7),(1045,534.7),(1035.6,538.6),(1029.4,540.9),(1025.2,550.3),(1026.3,565.9),(1017.9,568.3),(1010.6,567.5),(1003.3,563.6),(980.4,570.6),(969,576.9),(959.6,589.4),(944,586.3),(951.3,572.2),(948.1,562),(941.9,560.5),(940.8,553.4),(926.8,552.5),(927.3,551.1),(927.3,545.6),(933.5,544),(935.6,535.5),(929.4,531.6),(927.3,525.3),(917.9,519),(922.1,512.8),(921,503.4)]],
    "Murcia": [[(959.7,590),(969,575.9),(980.8,569.7),(1001.8,563.4),(1010,564.2),(1011.2,567.3),(1019.4,567.3),(1026.4,562.7),(1025.3,549.4),(1028.8,541.6),(1035.8,538.4),(1048.7,534.5),(1060.4,541.6),(1064,552.5),(1055.8,558.8),(1058.1,565),(1065.1,569.7),(1060.4,582.2),(1065.1,591.6),(1079.2,603.3),(1081.5,606.4),(1074.5,613.4),(1085,621.3),(1068.6,625.9),(1051,627.5),(1041.7,625.9),(1027.6,632.2),(1014.7,640),(1000.7,635.3),(986.6,618.1),(986.6,602.5),(970.2,600.2)]],
    "Alicante": [[(1067.5,532.2),(1074.5,535.3),(1093.2,539.2),(1101.4,534.5),(1095.6,531.4),(1116.7,525.2),(1135.4,524.4),(1149.5,526.7),(1157.7,534.5),(1135.4,544.7),(1135.4,550.2),(1114.3,554.8),(1100.3,574.4),(1092.1,579.1),(1090.9,586.9),(1081.5,603.3),(1079.2,603.3),(1065.1,591.6),(1060.4,582.2),(1065.1,569.7),(1058.1,565),(1055.8,558.8),(1064,552.5),(1060.4,541.6),(1069,539)]],
    "Jaén": [[(809.7,562.7),(816.7,562.7),(840.1,563.4),(844.8,560.3),(862.4,561.9),(864.7,558),(873,561.9),(882.3,555.6),(897.6,558.8),(902.2,555.6),(907,560.3),(917.5,556.4),(926.8,552.5),(941,553.3),(941,560.3),(948,561.9),(951.5,571.3),(951.5,577.5),(943.2,586.1),(939.7,586.9),(931.5,594.7),(916.3,611.9),(916.3,617.3),(910.4,622),(902.2,623.6),(895.2,620.5),(887,619.7),(877.6,625.9),(869.4,622),(847.2,632.2),(843.7,638.3),(834.3,640.2),(829.6,638.3),(815.5,622),(817.9,615.6),(808.5,607.4),(808.5,591),(817.9,580),(815.5,574.5)]],
    "Granada": [[(939.7,586.9),(943.2,586.1),(959.7,590),(969,599.4),(963.2,605.6),(964.3,610.3),(960.8,621.3),(956.1,621.3),(957.3,629),(936.2,640),(933.9,653.3),(921,648.6),(912.8,661.9),(905.8,661.9),(909.3,672),(902.2,675.9),(905.8,682.2),(897.6,688.4),(880,689.2),(874.1,693.1),(865.9,689.2),(851.9,690.8),(848.3,689.4),(847.2,684),(821.4,673),(809.7,668.4),(805,654.8),(813.2,643.8),(830.8,639.3),(834.3,640.2),(843.7,638.3),(847.2,632.2),(869.4,622),(877.6,625.9),(887,619.7),(895.2,620.5),(902.2,623.6),(910.4,622),(916.3,617.3),(916.3,611.9),(931.5,594.7)]],
    "Almería": [[(969,599.4),(970.2,600.2),(986.6,602.5),(986.6,618.1),(1000.7,635.3),(1012.4,640.8),(1000.7,652.5),(992.5,674.4),(984.3,683.8),(972.5,691.6),(962,684.5),(943.2,683.8),(929.2,693.9),(917.5,692.3),(897.6,688.4),(905.8,682.2),(902.2,675.9),(909.3,672),(905.8,661.9),(912.8,661.9),(921,648.6),(933.9,653.3),(936.2,640),(957.3,629),(956.1,621.3),(960.8,621.3),(964.3,610.3),(963.2,605.6)]],
    "Córdoba": [[(739.4,537.2),(752.3,537.2),(762.8,545.4),(775.7,549),(793.3,558.1),(809.7,565.4),(815.5,574.5),(817.9,580),(808.5,591),(808.5,607.4),(817.9,615.6),(815.5,622),(829.6,638.3),(813.2,643.8),(805,654.8),(800.3,648.4),(794.4,649.3),(782.7,653.8),(779.2,643.8),(773.4,641.1),(758.1,622),(757,620.1),(749.9,614.7),(742.9,616.5),(725.3,623.8),(721.8,618.3),(728.8,615.6),(727.6,609.2),(720.6,597.3),(708.9,581.8),(712.4,574.5),(708.9,563.6),(708.9,558.1),(723,549)]],
    "Sevilla": [[(662,596.4),(679.6,592.8),(682,583.7),(697.2,577.3),(699.5,579),(696,583.7),(697.2,585.5),(708.9,581.8),(720.6,597.3),(727.6,609.2),(728.8,615.6),(721.8,618.3),(725.3,623.8),(742.9,616.5),(749.9,614.7),(757,620.1),(758.1,622),(773.4,641.1),(779.2,643.8),(779.2,649.3),(774.5,651.1),(775.7,654.8),(765.2,654.8),(759.3,660.2),(742.9,671.2),(735.9,674.8),(730,667.5),(719.5,674.8),(711.3,677.5),(701.9,673),(685.5,677.5),(683.1,682.1),(664.4,680.3),(648,676.6),(645.6,664.8),(649.1,651.1),(645.6,643.8),(650.3,636.5),(645.6,627.4),(642.1,621),(633.9,620.1),(637.4,615.6),(659.7,608.3),(665.6,603.7)]],
    "Huelva": [[(603.4,577.3),(612.8,579.1),(612.8,583.7),(629.2,587.3),(631.6,591),(639.8,589.1),(645.6,589.4),(650.3,593.7),(662,596.4),(665.6,603.7),(659.7,608.3),(637.4,615.6),(633.9,620.1),(642.1,621),(645.6,627.4),(650.3,636.5),(645.6,643.8),(649.1,651.1),(645.6,664.8),(648,676.6),(648,684.8),(644.5,684),(641,674.8),(612.8,662),(594,653.8),(568.3,655.7),(564.8,649.3),(563.6,634.7),(558.9,627.4),(564.8,612.8),(573,607.4),(578.8,593.7),(591.7,591.9),(598.8,585.5)]],
    "Cádiz": [[(649.1,677.5),(664.4,680.3),(683.1,682.1),(685.5,677.5),(701.9,673),(711.3,677.5),(719.5,674.8),(730,667.5),(735.9,674.8),(742.9,671.2),(746.4,676.6),(742.9,683),(732.3,679.4),(727.6,683.9),(730,690.3),(725.3,697.6),(711.3,706.7),(719.5,705.8),(727.6,722.2),(733.5,722.2),(726.5,735),(719.5,735.9),(718.3,742.2),(706.6,746.8),(687.8,737.7),(672.6,732.2),(664.4,724),(657.3,710.3),(662,706.7),(652.7,707.6),(642.1,691.2)]],
    "Málaga": [[(779.2,650.2),(782.7,653.8),(794.4,649.3),(800.3,648.4),(805,654.8),(809.7,668.4),(821.4,673),(847.2,684),(848.3,689.4),(823.7,691.2),(799.1,692.1),(783.9,707.6),(772.2,709.4),(748.7,712.2),(737,716.7),(733.5,722.2),(727.6,722.2),(719.5,705.8),(711.3,706.7),(725.3,697.6),(730,690.3),(727.6,683.9),(732.3,679.4),(742.9,683),(746.4,676.6),(742.9,671.2),(759.3,660.2),(765.2,654.8),(775.7,654.8)]],
    "Baleares": [[(1324,469),(1340.1,460.8),(1356.2,449.1),(1369.8,444.4),(1387.2,442.1),(1382.2,447.9),(1392.1,458.5),(1400.8,455),(1408.2,458.5),(1408.2,464.3),(1397,483.1),(1378.5,493.6),(1364.9,486.6),(1355,483.1),(1353.7,473.7),(1343.8,470.2),(1336.4,473.7),(1335.2,478.4),(1331.5,473.7)],
                 [(1435.4,436.2),(1449,432.7),(1462.6,435),(1471.3,440.9),(1473.8,450.3),(1468.8,451.4),(1452.8,443.2),(1437.9,442.8)],
                 [(1236.2,517),(1243.6,511.2),(1257.2,506.5),(1265.4,510),(1260.9,515.9),(1248.5,527.1),(1236.2,524.1)],
                 [(1248.5,537),(1252.3,534.6),(1256,539.3),(1262.9,540.5),(1248.5,541.7)]],
    "Santa Cruz de Tenerife": [[(106.7,858.2),(116.1,858.9),(118.2,864.3),(116.1,873.8),(110.9,881.3),(105.7,872.5),(101.5,863)],
                               [(146.3,898.3),(153.6,899.7),(156.7,903.8),(153.6,907.9),(146.3,907.2),(142.5,902.4)],
                               [(169.2,888.1),(179.6,887.4),(192.1,885.4),(199.4,879.3),(206.7,875.2),(217.1,875.2),(216,877.2),(208.8,880.6),(202.5,886.8),(201.5,894.3),(197.3,902.4),(191.1,909.2),(182.7,909.2),(176.5,902.4)],
                               [(107.7,920.8),(105.7,925.5),(102.5,932.3),(99.4,929),(92.1,927.6),(93.2,925.5),(99.4,925.5),(103.6,921.5)]],
    "Las Palmas": [[(252.5,901),(269.2,902.4),(272.3,912),(270.2,920.1),(258.8,926.2),(250.4,921.5),(244.2,913.3),(246.3,909.2)],
                   [(364,864.3),(367.5,868.4),(367.1,876.6),(366.1,886.1),(360.9,894.3),(344.2,899.7),(336.9,907.2),(327.5,904.9),(340,901),(344.6,892.9),(349.4,883.4),(356.7,871.1),(357.7,866.4)],
                   [(390,835),(393.2,837.1),(390,845.3),(381.7,850.7),(372.3,853.4),(371.3,856.8),(365.5,856.8),(369.2,852.1),(369.2,846.6),(379.6,841.2),(388,839.8)],
                   [(388,831.7),(389,833.7),(386.9,834.1)]],
}


def color_de_rho(valor):
    # tramos de densidad relativa -> color de la leyenda
    if valor is None:
        return color_sin
    v = float(valor)
    if v >= 0.75:
        return colores[0]
    if v >= 0.30:
        return colores[1]
    if v > 0.10:
        return colores[2]
    if v >= -0.10:
        return colores[3]
    if v >= -0.30:
        return colores[4]
    if v >= -0.70:
        return colores[5]
    return colores[6]


df = pd.DataFrame({"provincia": provincias, "empresas": empresas, "rho": rho, "x": label_x, "y": label_y})
df["color"] = [color_de_rho(v) for v in rho]

sns.set_theme(style="white")
plt.rcParams["font.family"] = ["DejaVu Sans"]

fig, ax = plt.subplots(figsize=(19.2, 12.18))
ax.set_position([0, 0, 1, 1])
ax.set_xlim(0, 1568)
ax.set_ylim(994.7, 0)
ax.set_axis_off()

# --- mapa ---
for fila in df.itertuples():
    for parte in contornos[fila.provincia]:
        xs, ys = zip(*parte)
        ax.fill(xs, ys, facecolor=fila.color, edgecolor="white", linewidth=0.8, zorder=2)

# Ceuta y Melilla
sns.scatterplot(x=ciudades_x, y=ciudades_y, s=85, color=color_sin, edgecolor="none", ax=ax, zorder=2, legend=False)
ax.set_xlim(0, 1568)
ax.set_ylim(994.7, 0)
for nombre, x, y in zip(ciudades, ciudades_x, ciudades_y):
    ax.text(x, y + 20, nombre, fontsize=6, color="#555555", ha="center", va="center", zorder=4)
    ax.text(x, y + 29.5, "Sin empresas", fontsize=5, color="#888888", ha="center", va="center", zorder=4)

# etiquetas
for fila in df.itertuples():
    if fila.empresas == 0:
        ax.text(fila.x, fila.y, fila.provincia, fontsize=7, color="#555555", ha="center", va="center", zorder=4)
        ax.text(fila.x, fila.y + 9.4, "Sin empresas", fontsize=6, color="#888888", ha="center", va="center", zorder=4)
    else:
        ax.text(fila.x, fila.y, fila.provincia, fontsize=7.1, fontweight="bold", color="#111111",
                ha="center", va="center", zorder=4)
        ax.text(fila.x, fila.y + 11.6, f"Empresas: {fila.empresas}", fontsize=6, color="#222222",
                ha="center", va="center", zorder=4)
        ax.text(fila.x, fila.y + 19, r"$\rho_{rel}$: " + fila.rho, fontsize=6, color="#222222",
                ha="center", va="center", zorder=4)

# --- titulos ---
ax.text(759.5, 30, "Distribucion geografica ponderada por densidad - Cluster: 1266", fontsize=16.4,
        fontweight="bold", color="black", ha="center", va="center")
ax.text(759.5, 68, r"$\rho_{rel}$: Densidad relativa respecto a la media nacional. Ej: +0.10 significa un 10% de sobreponderación.",
        fontsize=8.2, style="italic", color="black", ha="center", va="center")
ax.text(759.5, 80, r"(Si una provincia tiene 50 empresas con $\rho_{rel}$ +0.10, tiene un exceso de 5 empresas respecto a su cuota esperada).",
        fontsize=8.2, style="italic", color="black", ha="center", va="center")

# --- panel izquierdo ---
ax.text(65, 162, "Instrumentos de cuerda artesanales", fontsize=11.9, fontweight="bold", color="black", va="center")
for i, linea in enumerate(subtitulo_cluster):
    ax.text(65, 191 + i * 13, linea, fontsize=10, color="black", va="center")
ax.text(65, 266, "Total empresas: 322", fontsize=10.9, fontweight="bold", color="black", va="center")
ax.plot([65, 311], [282, 282], color="#999999", linewidth=0.8)
ax.text(65, 308, "Top 3 empresas (empleados)", fontsize=9.1, color="black", va="center")
for nombre, y in zip(top_empresas, [332, 350, 367]):
    ax.text(65, y, nombre, fontsize=8.2, style="italic", color="black", va="center")
ax.text(65, 407, "Principales keywords", fontsize=9.1, fontweight="bold", color="black", va="center")
for i, linea in enumerate(keywords):
    ax.text(65, 424 + i * 10.5, linea, fontsize=8.2, color="black", va="center")
ax.text(65, 533, "Descripción del cluster", fontsize=9.2, fontweight="bold", color="black", va="center")
for i, linea in enumerate(descripcion):
    ax.text(65, 550 + i * 10.68, linea, fontsize=8.2, color="#444444", va="center")

# --- leyenda ---
ax.text(1316, 810, "Referencias de colores", fontsize=10.1, color="black", va="center")
for i, (cat, col) in enumerate(zip(categorias, colores)):
    y = 837.7 + i * 15.65
    ax.fill([1317.1, 1336.7, 1336.7, 1317.1], [y - 3.1, y - 3.1, y + 3.1, y + 3.1], facecolor=col, edgecolor="none")
    ax.text(1345.6, y, cat, fontsize=9.1, color="black", va="center")

sns.despine(ax=ax, left=True, bottom=True)
fig.savefig("out.png", dpi=200, facecolor="white")
